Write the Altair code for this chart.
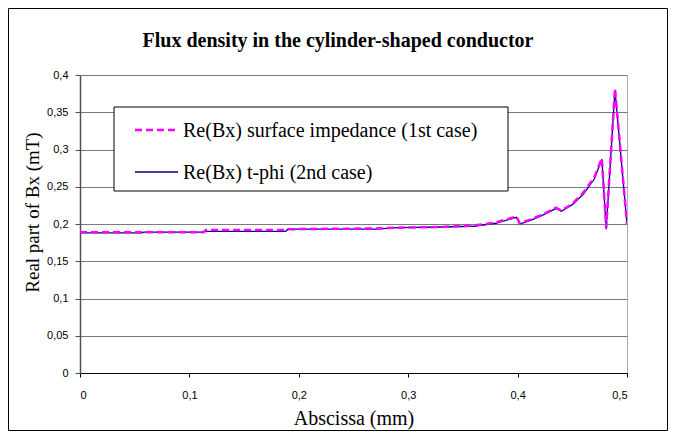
import altair as alt
import pandas as pd

chart_title = "Flux density in the cylinder-shaped conductor"
x_title = "Abscissa (mm)"
y_title = "Real part of Bx  (mT)"
series_names = ["Re(Bx) surface impedance (1st case)", "Re(Bx) t-phi (2nd case)"]
series_colors = ["#FF00FF", "#000080"]

x_vals = [0, 0.057, 0.058, 0.113, 0.115, 0.188, 0.19, 0.27, 0.29, 0.33, 0.36, 0.38,
          0.399, 0.402, 0.41, 0.42, 0.43, 0.435, 0.44, 0.45, 0.46, 0.47, 0.477,
          0.481, 0.489, 0.5]
tphi_vals = [0.188, 0.188, 0.189, 0.189, 0.190, 0.190, 0.193, 0.193, 0.195, 0.196, 0.197, 0.201,
             0.209, 0.200, 0.204, 0.210, 0.217, 0.221, 0.217, 0.226, 0.240, 0.260, 0.287,
             0.193, 0.380, 0.200]
surf_vals = [0.189, 0.189, 0.189, 0.189, 0.192, 0.192, 0.193, 0.194, 0.195, 0.196, 0.198, 0.202,
             0.210, 0.201, 0.205, 0.211, 0.218, 0.222, 0.218, 0.227, 0.242, 0.262, 0.288,
             0.195, 0.382, 0.200]
x_ticks = [0, 0.1, 0.2, 0.3, 0.4, 0.5]
y_ticks = [0, 0.05, 0.1, 0.15, 0.2, 0.25, 0.3, 0.35, 0.4]

rows = []
for i, x in enumerate(x_vals):
    rows.append({"series": series_names[1], "x": x, "y": tphi_vals[i], "ord": i})
for i, x in enumerate(x_vals):
    rows.append({"series": series_names[0], "x": x, "y": surf_vals[i], "ord": i})
df = pd.DataFrame(rows)

SERIF = "Liberation Serif"
W, H = 547, 298
PAD_L, PAD_T = 72, 67
TOTAL_W, TOTAL_H = 660, 423

label_expr = "replace(format(datum.value, '.2~f'), '.', ',')"

x_enc = alt.X("x:Q", scale=alt.Scale(domain=[0, 0.5], nice=False, zero=False),
              axis=alt.Axis(values=x_ticks, labelExpr=label_expr, grid=False,
                            labelFont="Liberation Sans", labelFontSize=11, labelColor="black",
                            tickColor="black", tickSize=4, labelPadding=12,
                            domainColor="black", domainWidth=1,
                            title=x_title, titleFont=SERIF, titleFontSize=20,
                            titleFontWeight="normal", titleColor="black",
                            titleX=W / 2, titleY=51, titleAlign="center",
                            titleBaseline="alphabetic"))
y_enc = alt.Y("y:Q", scale=alt.Scale(domain=[0, 0.4], nice=False),
              axis=alt.Axis(values=y_ticks, labelExpr=label_expr, grid=True,
                            gridColor="#7a7a7a", gridWidth=1,
                            labelFont="Liberation Sans", labelFontSize=11, labelColor="black",
                            tickColor="#505050", tickSize=5, labelPadding=7,
                            domainColor="#505050", domainWidth=1.5,
                            title=y_title, titleFont=SERIF, titleFontSize=19,
                            titleFontWeight="normal", titleColor="black",
                            titleAngle=270, titleX=-48, titleY=137,
                            titleAlign="center", titleBaseline="middle"))

base = alt.Chart(df)
line_tphi = base.transform_filter(alt.datum.series == series_names[1]).mark_line(
    color=series_colors[1], strokeWidth=1.3, clip=True
).encode(x=x_enc, y=y_enc, order="ord:Q")
line_surf = base.transform_filter(alt.datum.series == series_names[0]).mark_line(
    color=series_colors[0], strokeWidth=2.5, strokeDash=[7, 4], clip=True
).encode(x=x_enc, y=y_enc, order="ord:Q")

one = pd.DataFrame({"a": [0]})
leg_box = alt.Chart(one).mark_rect(fill="white", stroke="black", strokeWidth=1).encode(
    x=alt.value(34), x2=alt.value(428), y=alt.value(32), y2=alt.value(116))
leg_sym1 = alt.Chart(one).mark_rule(color=series_colors[0], strokeWidth=2.5, strokeDash=[7, 4]).encode(
    x=alt.value(55), x2=alt.value(98), y=alt.value(55))
leg_sym2 = alt.Chart(one).mark_rule(color=series_colors[1], strokeWidth=1.3).encode(
    x=alt.value(55), x2=alt.value(98), y=alt.value(97))
leg_txt1 = alt.Chart(one).mark_text(align="left", baseline="middle", font=SERIF,
                                    fontSize=20, color="black").encode(
    x=alt.value(103), y=alt.value(56), text=alt.value(series_names[0]))
leg_txt2 = alt.Chart(one).mark_text(align="left", baseline="middle", font=SERIF,
                                    fontSize=20, color="black").encode(
    x=alt.value(103), y=alt.value(98), text=alt.value(series_names[1]))

title_mark = alt.Chart(one).mark_text(align="center", baseline="alphabetic", font=SERIF,
                                      fontSize=20, fontWeight="bold", color="black").encode(
    x=alt.value(TOTAL_W / 2 - PAD_L), y=alt.value(-28), text=alt.value(chart_title))

frame = alt.Chart(one).mark_rect(fill="transparent", stroke="black", strokeWidth=1).encode(
    x=alt.value(-PAD_L + 0.5), x2=alt.value(TOTAL_W - PAD_L - 0.5),
    y=alt.value(-PAD_T + 0.5), y2=alt.value(TOTAL_H - PAD_T - 0.5))

chart = alt.layer(
    line_tphi, line_surf, leg_box, leg_sym1, leg_sym2, leg_txt1, leg_txt2, title_mark, frame
).properties(
    width=W, height=H,
    autosize=alt.AutoSizeParams(type="none"),
    padding={"left": PAD_L, "top": PAD_T, "right": TOTAL_W - PAD_L - W, "bottom": TOTAL_H - PAD_T - H},
    background="white",
).configure_view(stroke="#b0b0b0", strokeWidth=1)

chart.save("out.html", embed_options={"renderer": "svg", "actions": False})
